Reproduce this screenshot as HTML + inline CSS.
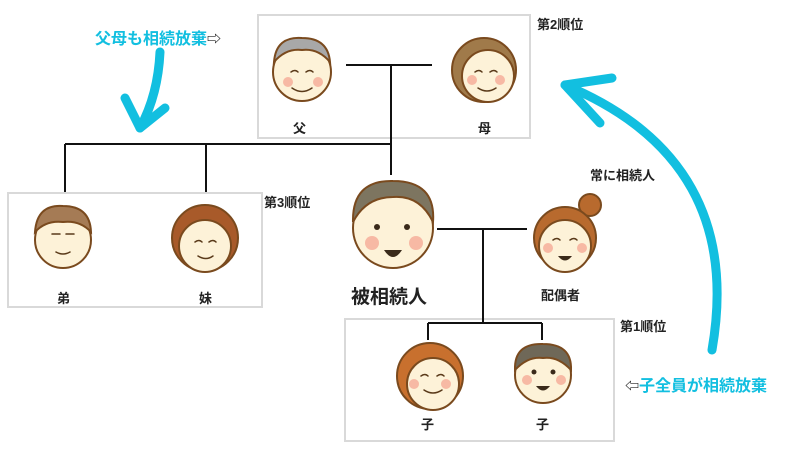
<!DOCTYPE html>
<html><head><meta charset="utf-8"><style>
body{margin:0;width:800px;height:450px;background:#fff;overflow:hidden;font-family:"Liberation Sans","Noto Sans CJK JP",sans-serif}
.t{position:absolute;font-weight:bold;color:#222;white-space:nowrap}
</style></head><body>
<svg width="800" height="450" style="position:absolute;left:0;top:0">
<g fill="none" stroke="#d9d9d9" stroke-width="2">
<rect x="258" y="15" width="272" height="123"/>
<rect x="8" y="193" width="254" height="114"/>
<rect x="345" y="319" width="269" height="122"/>
</g>
<g fill="none" stroke="#111" stroke-width="2">
<path d="M346 65H432M391 65V175M65 144H391M65 144V192M206 144V192"/>
<path d="M437 229H527M483 229V323M428 323H542M428 323V340M542 323V340"/>
</g>
<g stroke="#7a4a1e" stroke-width="2">
<circle cx="302" cy="72" r="29" fill="#fdf2d8"/><path d="M274 62Q276 36 302 38Q328 38 330 62Q318 48 302 50Q286 48 274 62Z" fill="#a8a8a8"/>
<circle cx="484" cy="70" r="32" fill="#a07a4a"/><circle cx="488" cy="76" r="26" fill="#fdf2d8"/>
<circle cx="63" cy="240" r="28" fill="#fdf2d8"/><path d="M35 232Q37 204 63 206Q90 206 91 232Q80 220 63 222Q46 220 35 232Z" fill="#a57b55"/>
<circle cx="205" cy="238" r="33" fill="#a85a2a"/><circle cx="205" cy="246" r="26" fill="#fdf2d8"/>
<circle cx="393" cy="228" r="40" fill="#fdf2d8"/><path d="M353 222Q352 180 393 181Q436 181 433 222Q420 195 393 197Q366 197 353 222Z" fill="#7d7560"/>
<circle cx="590" cy="205" r="11" fill="#b86a2e"/><circle cx="565" cy="238" r="31" fill="#b86a2e"/><circle cx="565" cy="246" r="26" fill="#fdf2d8"/>
<circle cx="430" cy="376" r="33" fill="#c8702e"/><circle cx="433" cy="384" r="26" fill="#fdf2d8"/>
<circle cx="543" cy="375" r="28" fill="#fdf2d8"/><path d="M515 370Q514 343 543 344Q572 344 571 370Q558 356 543 358Q528 356 515 370Z" fill="#6f6858"/>
</g>
<g fill="#f7b9a4">
<circle cx="288" cy="82" r="5"/><circle cx="318" cy="82" r="5"/><circle cx="472" cy="80" r="5"/><circle cx="500" cy="80" r="5"/>
<circle cx="372" cy="243" r="7"/><circle cx="416" cy="243" r="7"/><circle cx="548" cy="248" r="5"/><circle cx="582" cy="248" r="5"/>
<circle cx="414" cy="384" r="5"/><circle cx="446" cy="384" r="5"/><circle cx="527" cy="380" r="5"/><circle cx="561" cy="380" r="5"/>
</g>
<g fill="none" stroke="#5a3a1a" stroke-width="1.5" stroke-linecap="round">
<path d="M291 72q4-3 7 0M306 72q4-3 7 0M292 88q10 7 20 0"/>
<path d="M475 72q4-3 7 0M490 72q4-3 7 0M478 88q9 6 18 0"/>
<path d="M52 234h8M66 234h8M56 252q7 4 14 0"/>
<path d="M195 242q4-3 7 0M209 242q4-3 7 0M198 256q8 5 15 0"/>
<path d="M553 240q4-3 7 0M570 240q4-3 7 0"/>
<path d="M421 376q4-3 7 0M437 376q4-3 7 0M424 390q9 6 18 0"/>
</g>
<g fill="#3a2a1a">
<circle cx="377" cy="227" r="3"/><circle cx="407" cy="227" r="3"/><path d="M384 250q9 14 18 0z"/>
<path d="M558 256q7 9 14 0z"/>
<circle cx="534" cy="372" r="2.5"/><circle cx="553" cy="372" r="2.5"/><path d="M536 386q7 9 14 0z"/>
</g>
<g fill="none" stroke="#12bfe0" stroke-width="9" stroke-linecap="round" stroke-linejoin="round">
<path d="M160 52Q158 95 140 128"/><path d="M125 98L140 128L165 108"/>
<path d="M712 350Q745 160 565 85"/><path d="M600 123L565 85L612 78"/>
</g>
</svg>
<div class="t" style="left:95px;top:25px;font-size:16px;color:#12bfe0">父母も相続放棄<span style="color:#222;font-size:14px">⇨</span></div>
<div class="t" style="left:537px;top:14px;font-size:13px">第2順位</div>
<div class="t" style="left:264px;top:192px;font-size:13px">第3順位</div>
<div class="t" style="left:590px;top:165px;font-size:13px">常に相続人</div>
<div class="t" style="left:620px;top:316px;font-size:13px">第1順位</div>
<div class="t" style="left:625px;top:372px;font-size:16px;color:#12bfe0"><span style="color:#222;font-size:14px">⇦</span>子全員が相続放棄</div>
<div class="t" style="left:293px;top:118px;font-size:13px">父</div>
<div class="t" style="left:478px;top:118px;font-size:13px">母</div>
<div class="t" style="left:57px;top:288px;font-size:13px">弟</div>
<div class="t" style="left:199px;top:288px;font-size:13px">妹</div>
<div class="t" style="left:351px;top:282px;font-size:19px">被相続人</div>
<div class="t" style="left:541px;top:285px;font-size:13px">配偶者</div>
<div class="t" style="left:421px;top:414px;font-size:13px">子</div>
<div class="t" style="left:536px;top:414px;font-size:13px">子</div>
</body></html>
